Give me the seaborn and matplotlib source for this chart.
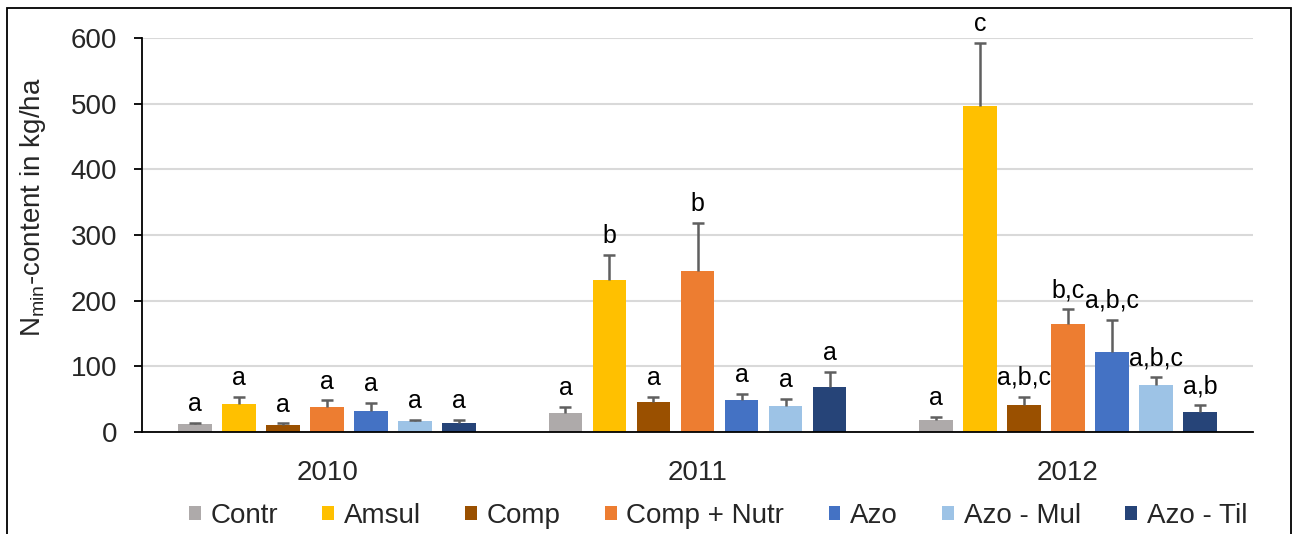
import matplotlib
matplotlib.use("Agg")
import matplotlib.pyplot as plt
from matplotlib.patches import Rectangle
import pandas as pd
import seaborn as sns

# Nmin content per year and treatment (mean, standard deviation, significance letters)
years = ["2010", "2011", "2012"]
treatments = ["Contr", "Amsul", "Comp", "Comp + Nutr", "Azo", "Azo - Mul", "Azo - Til"]

means_2010 = [12, 43, 11, 38, 32, 16, 14]
sd_2010 = [2, 10, 2, 10, 12, 3, 4]
letters_2010 = ["a", "a", "a", "a", "a", "a", "a"]

means_2011 = [29, 231, 46, 245, 48, 40, 68]
sd_2011 = [9, 39, 8, 73, 10, 11, 24]
letters_2011 = ["a", "b", "a", "b", "a", "a", "a"]

means_2012 = [18, 496, 41, 165, 122, 71, 31]
sd_2012 = [5, 96, 13, 22, 49, 12, 10]
letters_2012 = ["a", "c", "a,b,c", "b,c", "a,b,c", "a,b,c", "a,b"]

colors = ["#AEAAAA", "#FFC000", "#9A5000", "#ED7D31", "#4472C4", "#9DC3E6", "#264478"]

yticks = [0, 100, 200, 300, 400, 500, 600]

rows = []
for yr, m, s, l in zip(years,
                       [means_2010, means_2011, means_2012],
                       [sd_2010, sd_2011, sd_2012],
                       [letters_2010, letters_2011, letters_2012]):
    for t, mv, sv, lv in zip(treatments, m, s, l):
        rows.append({"year": yr, "treatment": t, "mean": mv, "sd": sv, "letter": lv})
df = pd.DataFrame(rows)

sns.set_theme(style="white")
plt.rcParams["font.family"] = ["Liberation Sans", "DejaVu Sans"]
plt.rcParams["mathtext.fontset"] = "custom"
plt.rcParams["mathtext.rm"] = "Liberation Sans"

W, H = 1293, 534
fig = plt.figure(figsize=(W / 100, H / 100), dpi=100)
ax = fig.add_axes([142 / W, 1 - 432 / H, (1253 - 142) / W, (432 - 38) / H])

sns.barplot(data=df, x="year", y="mean", hue="treatment", order=years,
            hue_order=treatments, palette=colors, width=0.832, gap=0.23,
            errorbar=None, linewidth=0, saturation=1, ax=ax)

# Upper error bars (stem + top cap) and significance letters
err_color = "#5f5f5f"
for t, cont in zip(treatments, ax.containers):
    sub = df[df["treatment"] == t].set_index("year").loc[years]
    for bar, (_, r) in zip(cont.patches, sub.iterrows()):
        xc = bar.get_x() + bar.get_width() / 2
        top = r["mean"] + r["sd"]
        ax.vlines(xc, r["mean"], top, color=err_color, linewidth=1.8, zorder=3)
        ax.plot([xc], [top], marker="_", markersize=8, markeredgewidth=1.8,
                color=err_color, zorder=3)
        ax.annotate(r["letter"], (xc, top), xytext=(0, 5),
                    textcoords="offset points", ha="center", va="bottom",
                    fontsize=18, color="black")

ax.set_ylim(0, 600)
ax.set_yticks(yticks)
ax.set_xlim(-0.5, 2.5)
ax.yaxis.grid(True, color="#d9d9d9", linewidth=1.5)
ax.set_axisbelow(True)
for side in ["top", "right"]:
    ax.spines[side].set_visible(False)
for side in ["left", "bottom"]:
    ax.spines[side].set_color("black")
    ax.spines[side].set_linewidth(1.3)
ax.tick_params(axis="y", which="major", left=True, length=6, width=1.3,
               color="black", labelsize=20, pad=12)
ax.tick_params(axis="x", bottom=False, labelsize=20, pad=14)
ax.set_xlabel("")
ax.set_ylabel(r"N$_{\mathregular{min}}$-content in kg/ha", fontsize=20)
ax.yaxis.set_label_coords(-0.085, 0.57)

handles, labels = ax.get_legend_handles_labels()
ax.get_legend().remove()
fig.legend(handles, labels, loc="center", bbox_to_anchor=(718 / W, 1 - 516 / H),
           ncol=7, frameon=False, fontsize=20, handlelength=0.42, handleheight=0.42,
           handletextpad=0.35, columnspacing=1.6, borderaxespad=0, borderpad=0)

# Outer frame around the figure
fig.add_artist(Rectangle((7 / W, -0.05), (1291 - 7) / W, (H - 8) / H + 0.05,
                         transform=fig.transFigure, fill=False,
                         edgecolor="black", linewidth=1.3, clip_on=False))

fig.savefig("out.png", dpi=100)
